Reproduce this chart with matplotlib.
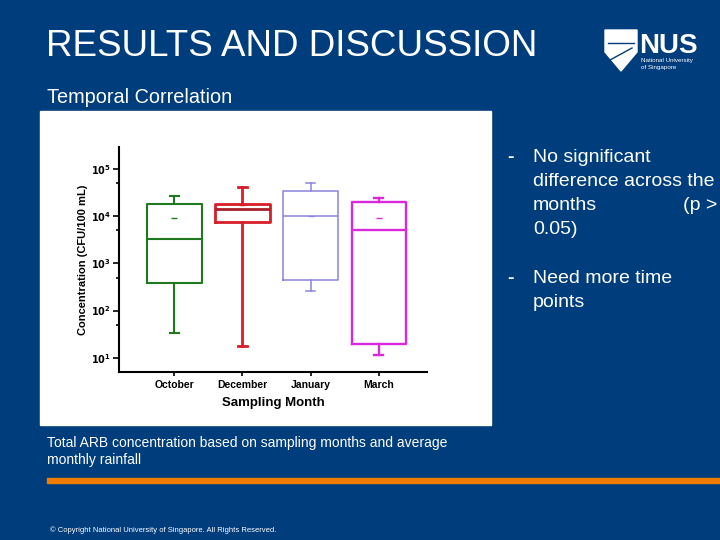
import numpy as np
import matplotlib.pyplot as plt
from matplotlib.patches import Rectangle, Polygon
from matplotlib.ticker import FixedLocator, FixedFormatter, NullFormatter

plt.rcParams['font.family'] = ['Liberation Sans', 'DejaVu Sans']

# box plot summary values (CFU/100 mL)
months = ['October', 'December', 'January', 'March']
whisker_low = [33, 18, 265, 11.5]
q1 = [380, 7400, 440, 20]
median = [3200, 14300, 10000, 5000]
q3 = [18000, 18000, 34000, 20000]
whisker_high = [27000, 42000, 50000, 24000]
means = [9200, 17000, 10000, 8900]

box_colors = ['#1f7a1f', '#d81e28', '#8a84dc', '#dc28dc']
median_colors = ['#1f7a1f', '#a82028', '#8a84dc', '#dc28dc']
line_widths = [1.5, 2.0, 1.1, 1.7]

ytick_vals = [10, 100, 1000, 10000, 100000]
ytick_labels = [r'$\mathbf{10^{1}}$', r'$\mathbf{10^{2}}$', r'$\mathbf{10^{3}}$',
                r'$\mathbf{10^{4}}$', r'$\mathbf{10^{5}}$']
yminor_vals = [50, 500, 5000, 50000]

slide_blue = '#003d7c'
fig = plt.figure(figsize=(7.2, 5.4), dpi=100)
fig.patch.set_facecolor(slide_blue)

# slide layer, pixel coordinates
bg = fig.add_axes([0, 0, 1, 1])
bg.set_xlim(0, 720)
bg.set_ylim(540, 0)
bg.axis('off')
bg.add_patch(Rectangle((40, 111), 451, 314, color='white'))
bg.add_patch(Rectangle((47, 478), 673, 5, color='#ef7c00'))

bg.text(46, 56, 'RESULTS AND DISCUSSION', fontsize=26.5, color='white', va='baseline')
bg.text(47, 103, 'Temporal Correlation', fontsize=14.3, color='white', va='baseline')

bullet_kw = dict(fontsize=14, color='white', va='baseline')
bg.text(507, 162, '-', fontweight='bold', **bullet_kw)
bg.text(533, 162, 'No significant', **bullet_kw)
bg.text(533, 186, 'difference across the', **bullet_kw)
bg.text(533, 210, 'months', **bullet_kw)
bg.text(717, 210, '(p >', ha='right', **bullet_kw)
bg.text(533, 234, '0.05)', **bullet_kw)
bg.text(507, 283, '-', fontweight='bold', **bullet_kw)
bg.text(533, 283, 'Need more time', **bullet_kw)
bg.text(533, 307, 'points', **bullet_kw)

bg.text(47, 447, 'Total ARB concentration based on sampling months and average',
        fontsize=10, color='white', va='baseline')
bg.text(47, 464, 'monthly rainfall', fontsize=10, color='white', va='baseline')
bg.text(50, 532, '\u00a9 Copyright National University of Singapore. All Rights Reserved.',
        fontsize=5.5, color='white', va='baseline')

# NUS logo
bg.add_patch(Polygon([(605, 30), (637, 30), (637, 52), (621, 71), (605, 52)],
                     closed=True, color='white'))
bg.plot([608, 634], [43, 43], color=slide_blue, lw=1)
bg.plot([610, 632], [60, 48], color=slide_blue, lw=1)
bg.text(639, 53, 'NUS', fontsize=20, fontweight='bold', color='white', va='baseline')
bg.text(641, 62, 'National University', fontsize=4.5, color='white', va='baseline')
bg.text(641, 69, 'of Singapore', fontsize=4.5, color='white', va='baseline')

# chart
ax = fig.add_axes([119 / 720, 1 - 372 / 540, 308 / 720, 225 / 540])
ax.set_facecolor('white')
stats = []
for i, m in enumerate(months):
    stats.append(dict(label=m, whislo=whisker_low[i], q1=q1[i], med=median[i],
                      q3=q3[i], whishi=whisker_high[i], mean=means[i], fliers=[]))
pos = np.arange(1, len(months) + 1)
art = ax.bxp(stats, positions=pos, widths=0.8, showmeans=True, capwidths=0.13,
             showfliers=False)
for i in range(len(months)):
    c = box_colors[i]
    lw = line_widths[i]
    art['boxes'][i].set(color=c, linewidth=lw)
    art['medians'][i].set(color=median_colors[i], linewidth=lw)
    for j in (2 * i, 2 * i + 1):
        art['whiskers'][j].set(color=c, linewidth=lw)
        art['caps'][j].set(color=c, linewidth=lw)
    art['means'][i].set(marker='_', markersize=4, markeredgecolor=c,
                        markerfacecolor=c, markeredgewidth=1)

ax.set_yscale('log')
ax.set_ylim(5, 2.9e5)
ax.set_xlim(0.19, 4.706)
ax.yaxis.set_major_locator(FixedLocator(ytick_vals))
ax.yaxis.set_major_formatter(FixedFormatter(ytick_labels))
ax.yaxis.set_minor_locator(FixedLocator(yminor_vals))
ax.yaxis.set_minor_formatter(NullFormatter())
ax.set_xticks(pos)
ax.set_xticklabels(months, fontsize=7.5, fontweight='bold')
ax.tick_params(axis='y', which='major', labelsize=7, length=4, width=1.2, pad=2)
ax.tick_params(axis='y', which='minor', length=2.5, width=1.2)
ax.tick_params(axis='x', length=3, width=1.2, pad=3)
for s in ('top', 'right'):
    ax.spines[s].set_visible(False)
for s in ('left', 'bottom'):
    ax.spines[s].set_linewidth(1.5)
ax.set_ylabel('Concentration (CFU/100 mL)', fontsize=8, fontweight='bold', labelpad=2)
ax.set_xlabel('Sampling Month', fontsize=9.5, fontweight='bold', labelpad=5)

fig.savefig('out.png', dpi=100, facecolor=fig.get_facecolor())
